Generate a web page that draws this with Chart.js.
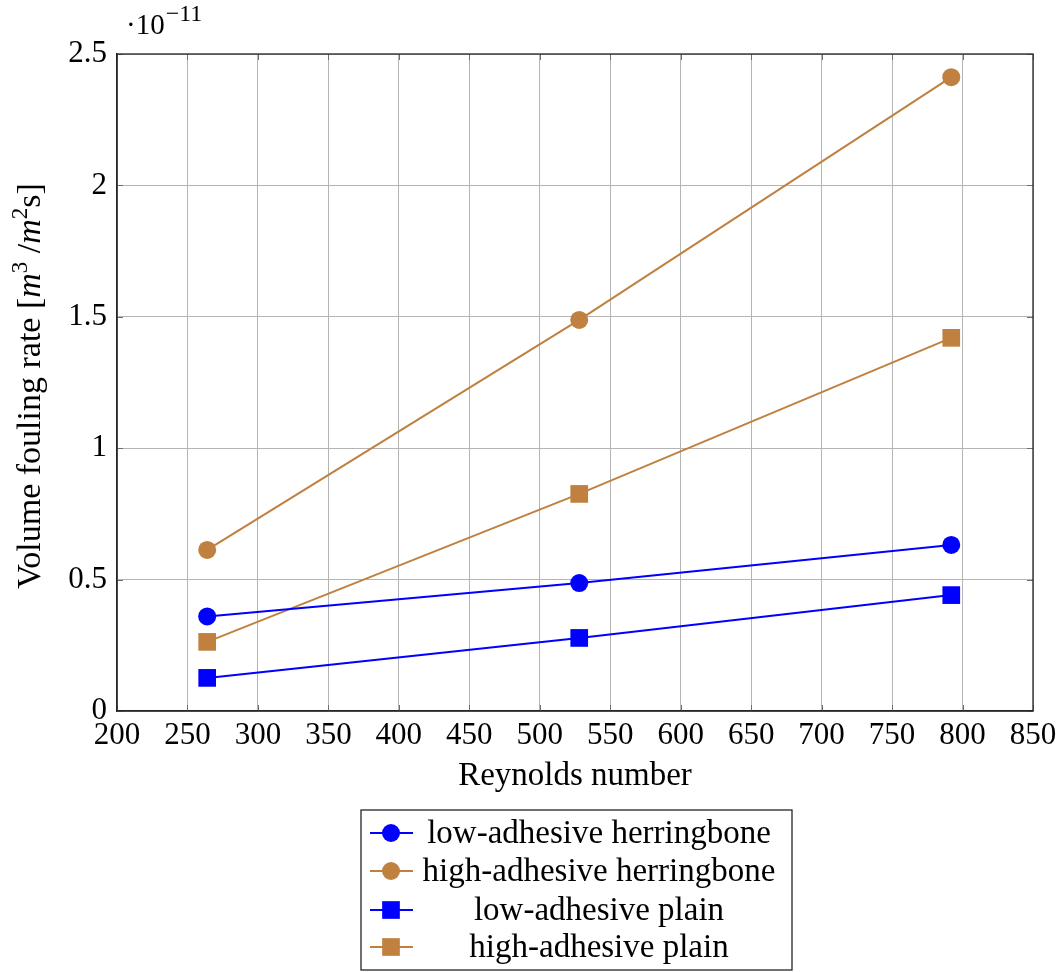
<!DOCTYPE html>
<html>
<head>
<meta charset="utf-8">
<title>Volume fouling rate vs Reynolds number</title>
<script src="https://cdn.jsdelivr.net/npm/chart.js"></script>
<style>
  html, body { margin: 0; padding: 0; background: #ffffff; }
  canvas { display: block; }
</style>
</head>
<body>
<canvas id="chart" width="1063" height="972"></canvas>
<script>
// Reynolds numbers of the three runs
const reynolds = [264, 528, 792];

// Volume fouling rate, in units of 1e-11 m^3/(m^2 s)
const lowAdhesiveHerringbone  = [0.360, 0.487, 0.632];
const highAdhesiveHerringbone = [0.613, 1.488, 2.412];
const lowAdhesivePlain        = [0.126, 0.278, 0.441];
const highAdhesivePlain       = [0.263, 0.826, 1.420];

const seriesNames = [
  'low-adhesive herringbone',
  'high-adhesive herringbone',
  'low-adhesive plain',
  'high-adhesive plain'
];

// Axis ticks
const xTicks = [200, 250, 300, 350, 400, 450, 500, 550, 600, 650, 700, 750, 800, 850];
const yTicks = [0, 0.5, 1, 1.5, 2, 2.5];
const yExponent = '−11';

const BLUE = '#0000ff';
const BROWN = '#bf8040';
const FONT = '"Liberation Serif", "Times New Roman", serif';

function pairs(xs, ys) { return xs.map((x, i) => ({ x: x, y: ys[i] })); }

function series(label, values, color, style, radius) {
  return {
    label: label,
    data: pairs(reynolds, values),
    borderColor: color,
    backgroundColor: color,
    borderWidth: 2,
    tension: 0,
    pointStyle: style,
    pointRadius: radius,
    pointHoverRadius: radius,
    pointBorderWidth: 0,
    pointBackgroundColor: color
  };
}

const datasets = [
  series(seriesNames[0], lowAdhesiveHerringbone, BLUE, 'circle', 9),
  series(seriesNames[1], highAdhesiveHerringbone, BROWN, 'circle', 9),
  series(seriesNames[2], lowAdhesivePlain, BLUE, 'rect', 12.5),
  series(seriesNames[3], highAdhesivePlain, BROWN, 'rect', 12.5)
];

function marker(ctx, style, radius, color, x, y) {
  ctx.save();
  ctx.fillStyle = color;
  ctx.beginPath();
  if (style === 'circle') {
    ctx.arc(x, y, radius, 0, Math.PI * 2);
  } else {
    const s = radius * Math.SQRT1_2;
    ctx.rect(x - s, y - s, 2 * s, 2 * s);
  }
  ctx.fill();
  ctx.restore();
}

// Frame, inner tick marks, axis titles, exponent label and legend box
const decorations = {
  id: 'decorations',
  afterDraw(chart) {
    const ctx = chart.ctx;
    const a = chart.chartArea;
    const xs = chart.scales.x, ys = chart.scales.y;

    // inner tick marks on all four sides
    ctx.save();
    ctx.strokeStyle = '#6e6e6e';
    ctx.lineWidth = 1;
    ctx.beginPath();
    xTicks.forEach(v => {
      const px = Math.round(xs.getPixelForValue(v)) + 0.5;
      ctx.moveTo(px, a.bottom); ctx.lineTo(px, a.bottom - 6);
      ctx.moveTo(px, a.top); ctx.lineTo(px, a.top + 6);
    });
    yTicks.forEach(v => {
      const py = Math.round(ys.getPixelForValue(v)) + 0.5;
      ctx.moveTo(a.left, py); ctx.lineTo(a.left + 6, py);
      ctx.moveTo(a.right, py); ctx.lineTo(a.right - 6, py);
    });
    ctx.stroke();

    // frame
    ctx.strokeStyle = '#262626';
    ctx.lineWidth = 1.3;
    ctx.strokeRect(a.left, a.top, a.right - a.left, a.bottom - a.top);
    ctx.restore();

    // exponent label above the y axis
    ctx.save();
    ctx.fillStyle = '#000';
    ctx.textBaseline = 'alphabetic';
    ctx.textAlign = 'left';
    ctx.font = '29px ' + FONT;
    ctx.fillText('·10', 126, 34);
    const w10 = ctx.measureText('·10').width;
    ctx.font = '24px ' + FONT;
    ctx.fillText(yExponent, 126 + w10 + 1, 21);
    ctx.restore();

    // x axis title
    ctx.save();
    ctx.fillStyle = '#000';
    ctx.font = '33px ' + FONT;
    ctx.textAlign = 'center';
    ctx.textBaseline = 'alphabetic';
    ctx.fillText('Reynolds number', (a.left + a.right) / 2, 785);
    ctx.restore();

    // y axis title with italic units
    const T = '34px ' + FONT, I = 'italic 34px ' + FONT, S = '23px ' + FONT;
    const parts = [
      { t: 'Volume fouling rate [', f: T, dy: 0 },
      { t: 'm', f: I, dy: 0 },
      { t: '3', f: S, dy: -13 },
      { t: ' /', f: T, dy: 0 },
      { t: 'm', f: I, dy: 0 },
      { t: '2', f: S, dy: -13 },
      { t: 's', f: T, dy: 0 },
      { t: ']', f: T, dy: 0 }
    ];
    ctx.save();
    let total = 0;
    parts.forEach(p => { ctx.font = p.f; p.w = ctx.measureText(p.t).width; total += p.w; });
    ctx.translate(40, 386);
    ctx.rotate(-Math.PI / 2);
    ctx.fillStyle = '#000';
    ctx.textAlign = 'left';
    ctx.textBaseline = 'alphabetic';
    let cx = -total / 2;
    parts.forEach(p => { ctx.font = p.f; ctx.fillText(p.t, cx, p.dy); cx += p.w; });
    ctx.restore();

    // legend box
    const box = { left: 361, top: 810, right: 792, bottom: 970 };
    ctx.save();
    ctx.fillStyle = '#fff';
    ctx.fillRect(box.left, box.top, box.right - box.left, box.bottom - box.top);
    ctx.strokeStyle = '#262626';
    ctx.lineWidth = 1.3;
    ctx.strokeRect(box.left, box.top, box.right - box.left, box.bottom - box.top);
    const rowY = [833, 871, 910, 947];
    const textCenter = 599;
    chart.data.datasets.forEach((ds, i) => {
      const y = rowY[i];
      ctx.strokeStyle = ds.borderColor;
      ctx.lineWidth = 2;
      ctx.beginPath();
      ctx.moveTo(370, y); ctx.lineTo(413, y);
      ctx.stroke();
      marker(ctx, ds.pointStyle, ds.pointRadius, ds.borderColor, 391, y);
      ctx.fillStyle = '#000';
      ctx.font = '33px ' + FONT;
      ctx.textAlign = 'center';
      ctx.textBaseline = 'middle';
      ctx.fillText(ds.label, textCenter, y + 1);
    });
    ctx.restore();
  }
};

new Chart(document.getElementById('chart'), {
  type: 'line',
  data: { datasets: datasets },
  options: {
    responsive: false,
    animation: false,
    events: [],
    layout: { padding: { top: 54, right: 30, left: 0, bottom: 0 } },
    plugins: {
      legend: { display: false },
      tooltip: { enabled: false },
      title: { display: false }
    },
    scales: {
      x: {
        type: 'linear',
        min: xTicks[0],
        max: xTicks[xTicks.length - 1],
        afterBuildTicks(scale) { scale.ticks = xTicks.map(v => ({ value: v })); },
        afterFit(scale) { scale.height = 261; },
        ticks: {
          color: '#000',
          font: { family: FONT, size: 31 },
          padding: 6,
          maxRotation: 0,
          autoSkip: false,
          callback: v => String(v)
        },
        grid: { color: '#b4b4b4', lineWidth: 1, drawTicks: false },
        border: { display: true, color: '#262626', width: 1.3 }
      },
      y: {
        type: 'linear',
        min: yTicks[0],
        max: yTicks[yTicks.length - 1],
        afterBuildTicks(scale) { scale.ticks = yTicks.map(v => ({ value: v })); },
        afterFit(scale) { scale.width = 117; },
        ticks: {
          color: '#000',
          font: { family: FONT, size: 31 },
          padding: 10,
          autoSkip: false,
          callback: v => String(v)
        },
        grid: { color: '#b4b4b4', lineWidth: 1, drawTicks: false },
        border: { display: true, color: '#262626', width: 1.3 }
      }
    }
  },
  plugins: [decorations]
});
</script>
</body>
</html>
